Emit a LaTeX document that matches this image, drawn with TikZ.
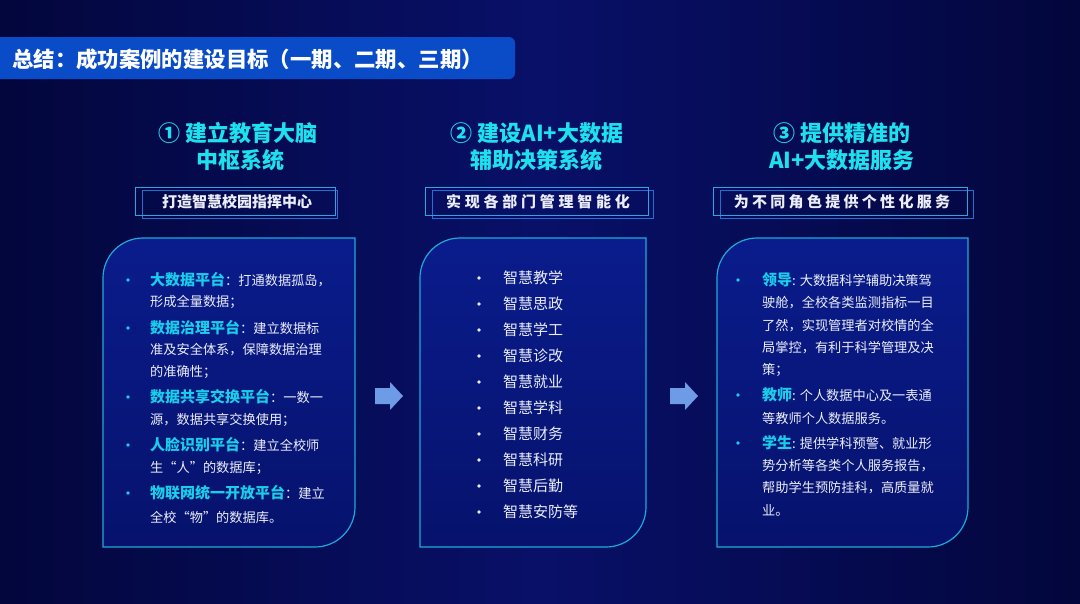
\documentclass[tikz,border=0pt]{standalone}
\usepackage{fontspec}
\setmainfont{Noto Sans CJK SC}
\definecolor{bgE}{RGB}{3,6,60}
\definecolor{bgM}{RGB}{8,16,104}
\definecolor{boxTop}{RGB}{10,28,140}
\definecolor{boxBot}{RGB}{6,18,108}
\definecolor{boxLine}{RGB}{30,170,215}
\definecolor{titleBar}{RGB}{10,75,200}
\definecolor{headCyan}{RGB}{30,225,240}
\definecolor{labCyan}{RGB}{25,205,235}
\definecolor{txtW}{RGB}{235,238,250}
\definecolor{arrowC}{RGB}{110,155,230}
\definecolor{frameA}{RGB}{45,165,225}
\definecolor{frameB}{RGB}{40,110,210}
\newcommand\cylab[1]{{\color{labCyan}\bfseries\fontsize{15}{15}\selectfont #1}}
\tikzset{
  heading/.style={anchor=center, inner sep=0pt, text=headCyan, font=\bfseries\fontsize{22}{22}\selectfont},
  subtxt/.style={anchor=center, inner sep=0pt, text=txtW, font=\bfseries\fontsize{15}{15}\selectfont},
  body/.style={anchor=west, inner sep=0pt, text=txtW, font=\fontsize{13.2}{13.2}\selectfont},
  listtxt/.style={anchor=west, inner sep=0pt, text=txtW, font=\fontsize{15}{15}\selectfont},
  dotc/.style={fill=labCyan},
  dotw/.style={fill=txtW},
  arrowshape/.style={fill=arrowC}
}
\begin{document}
\begin{tikzpicture}[x=1pt,y=-1pt]
\useasboundingbox (0,0) rectangle (1080,603);
\shade[left color=bgE,right color=bgE,middle color=bgM] (0,0) rectangle (1080,603);
% title bar
\fill[titleBar, rounded corners=6pt] (-12,37) rectangle (515,79);
\node[anchor=west, inner sep=0pt, text=white, font=\bfseries\fontsize{21.4}{21.4}\selectfont] (title) at (12,59) {总结：成功案例的建设目标（一期、二期、三期）};
% headings
\node[heading] (h1a) at (238,133) {① 建立教育大脑};
\node[heading] (h1b) at (240,160) {中枢系统};
\node[heading] (h2a) at (537,133) {② 建设AI+大数据};
\node[heading] (h2b) at (536,160) {辅助决策系统};
\node[heading] (h3a) at (842,133) {③ 提供精准的};
\node[heading] (h3b) at (842,160) {AI+大数据服务};
% subtitle frames
\draw[frameB, line width=1pt] (142,190) rectangle (337,218);
\draw[frameA, line width=1pt] (135,187) rectangle (335,215);
\draw[frameB, line width=1pt] (432,190) rectangle (653,218);
\draw[frameA, line width=1pt] (425,187) rectangle (648,215);
\draw[frameB, line width=1pt] (720,190) rectangle (973,218);
\draw[frameA, line width=1pt] (713,187) rectangle (967,215);
\node[subtxt] (s1) at (237,202) {打造智慧校园指挥中心};
\node[subtxt] (s2) at (538,202) {\addfontfeature{LetterSpace=25}实现各部门管理智能化\hspace{-3.7pt}};
\node[subtxt] (s3) at (842,202) {\addfontfeature{LetterSpace=22}为不同角色提供个性化服务\hspace{-3.3pt}};
% cards
\foreach \l/\r in {103/355, 420/646, 717/968}{
  \shade[top color=boxTop, bottom color=boxBot]
    (\l+40,238) -- (\r,238) -- (\r,507) arc[start angle=0,end angle=90,radius=40]
    -- (\l,547) -- (\l,278) arc[start angle=180,end angle=270,radius=40] -- cycle;
  \draw[boxLine, line width=1.2pt]
    (\l+40,238) -- (\r,238) -- (\r,507) arc[start angle=0,end angle=90,radius=40]
    -- (\l,547) -- (\l,278) arc[start angle=180,end angle=270,radius=40] -- cycle;
}
% arrows
\fill[arrowshape] (375,388) -- (390,388) -- (390,382) -- (403,396) -- (390,410) -- (390,404) -- (375,404) -- cycle;
\fill[arrowshape] (670,388) -- (685,388) -- (685,382) -- (698,396) -- (685,410) -- (685,404) -- (670,404) -- cycle;
% column 1
\foreach \y in {280,328,397,445,493}{\fill[dotc] (128,\y) circle (1.8);}
\node[body] (c1a) at (150,280) {\cylab{大数据平台}：打通数据孤岛，};
\node[body] (c1b) at (150,302) {形成全量数据；};
\node[body] (c1c) at (150,328) {\cylab{数据治理平台}：建立数据标};
\node[body] (c1d) at (150,350) {准及安全体系，保障数据治理};
\node[body] (c1e) at (150,372) {的准确性；};
\node[body] (c1f) at (150,397) {\cylab{数据共享交换平台}：一数一};
\node[body] (c1g) at (150,420) {源，数据共享交换使用；};
\node[body] (c1h) at (150,445) {\cylab{人脸识别平台}：建立全校师};
\node[body] (c1i) at (150,468) {生“人”的数据库；};
\node[body] (c1j) at (150,493) {\cylab{物联网统一开放平台}：建立};
\node[body] (c1k) at (150,517) {全校“物”的数据库。};
% column 2
\foreach \t [count=\i from 0] in {智慧教学,智慧思政,智慧学工,智慧诊改,智慧就业,智慧学科,智慧财务,智慧科研,智慧后勤,智慧安防等}{
  \fill[dotw] (479,278+26*\i) circle (1.8);
  \node[listtxt] (c2n\i) at (503,278+26*\i) {\t};
}
% column 3
\foreach \y in {280,395,443}{\fill[dotc] (738,\y) circle (1.8);}
\node[body] (c3a) at (762,280) {\cylab{领导}: 大数据科学辅助决策驾};
\node[body] (c3b) at (762,303) {驶舱，全校各类监测指标一目};
\node[body] (c3c) at (762,326) {了然，实现管理者对校情的全};
\node[body] (c3d) at (762,348) {局掌控，有利于科学管理及决};
\node[body] (c3e) at (762,370) {策；};
\node[body] (c3f) at (762,395) {\cylab{教师}: 个人数据中心及一表通};
\node[body] (c3g) at (762,418) {等教师个人数据服务。};
\node[body] (c3h) at (762,443) {\cylab{学生}: 提供学科预警、就业形};
\node[body] (c3i) at (762,466) {势分析等各类个人服务报告，};
\node[body] (c3j) at (762,488) {帮助学生预防挂科，高质量就};
\node[body] (c3k) at (762,510) {业。};
\end{tikzpicture}
\end{document}
